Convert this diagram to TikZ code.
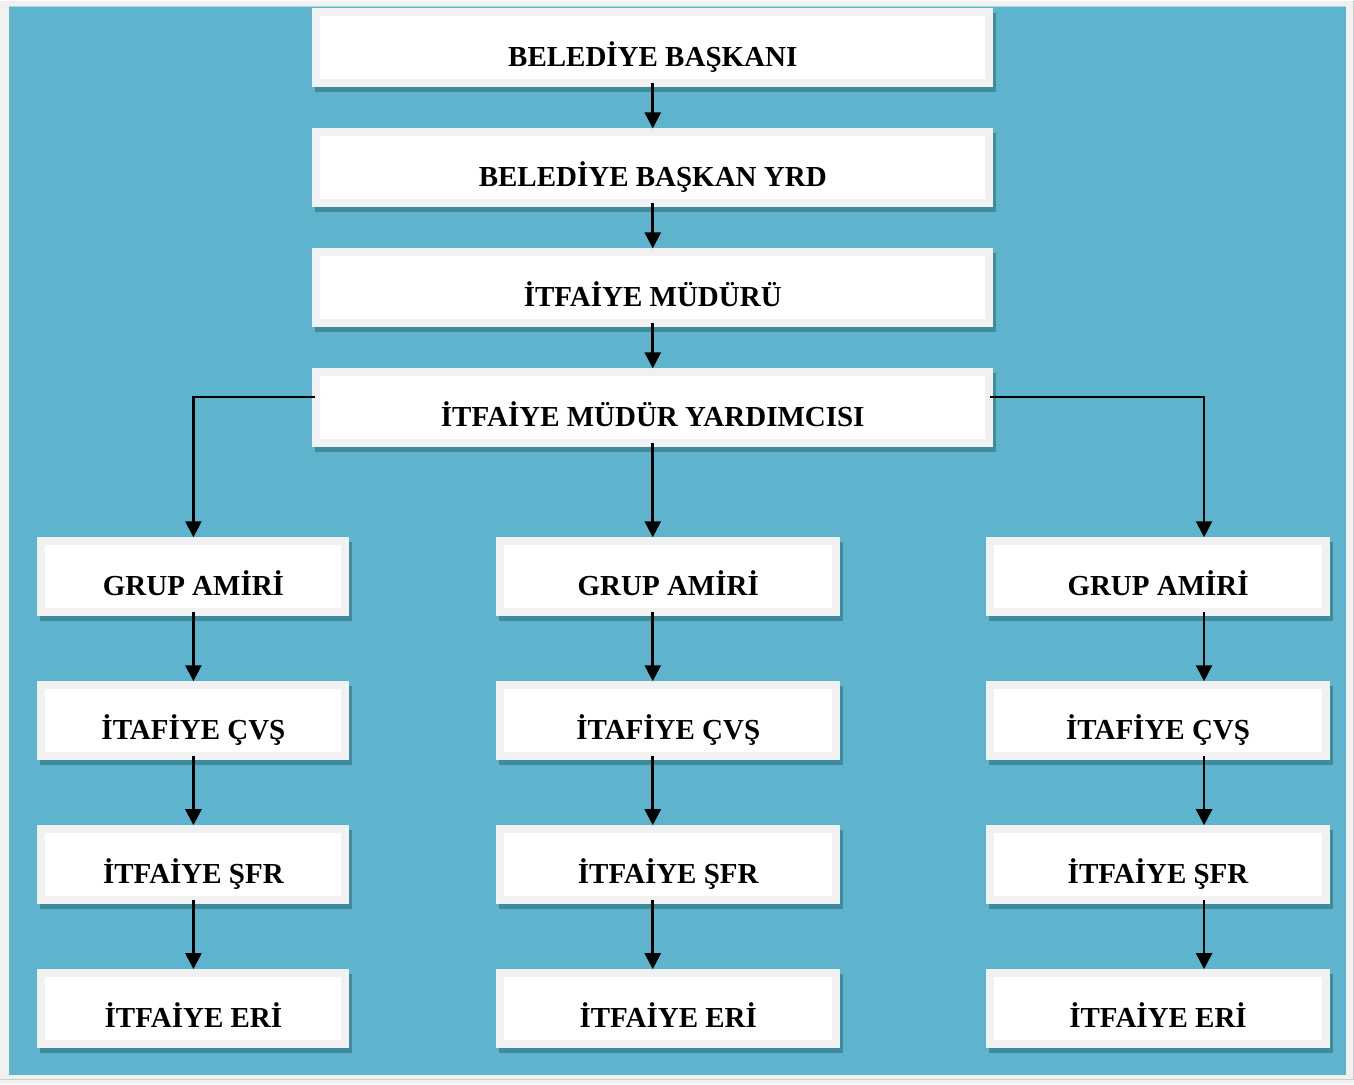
\documentclass[tikz,border=0pt]{standalone}
\usepackage{fontspec}
\setmainfont{Liberation Serif}
\usetikzlibrary{arrows.meta,calc,shadows}
\definecolor{bgteal}{HTML}{5EB4CD}
\definecolor{frameg}{HTML}{F1F1F1}
\definecolor{shadteal}{HTML}{3F8B9C}
\tikzset{
  box/.style={fill=frameg, minimum height=79pt, inner sep=0pt, outer sep=0pt,
    font=\fontsize{29}{34}\selectfont\bfseries, text height=38pt, text depth=0pt,
    drop shadow={shadow xshift=3pt, shadow yshift=-5pt, fill=shadteal, opacity=1},
    path picture={\fill[white] ([shift={(8pt,8pt)}]path picture bounding box.south west)
      rectangle ([shift={(-8pt,-8pt)}]path picture bounding box.north east);}},
  topbox/.style={box, minimum width=681pt},
  leftbox/.style={box, minimum width=312pt},
  widebox/.style={box, minimum width=344pt},
  conn/.style={line width=2.6pt, ->, shorten <=-4pt},
  elbow/.style={line width=2.2pt, ->}
}

\begin{document}
\begin{tikzpicture}[x=1pt,y=1pt,line cap=butt,>={Triangle[width=16pt,length=16pt]}]
\fill[frameg] (0,0) rectangle (1354,-1084);
\fill[bgteal] (9,-6) rectangle (1346,-1075);
\draw[bgteal!55!white, line width=1pt] (9,-6.5) -- (1346,-6.5);
\draw[gray!40, line width=1pt] (0,-1079) -- (1353,-1079) -- (1353,0);
% chain at the top
\node[topbox] (bb) at (652.5,-47.5) {BELEDİYE BAŞKANI};
\node[topbox] (bby) at (652.5,-167.5) {BELEDİYE BAŞKAN YRD};
\node[topbox] (im) at (652.5,-287.5) {İTFAİYE MÜDÜRÜ};
\node[topbox] (imy) at (652.5,-407.5) {İTFAİYE MÜDÜR YARDIMCISI};
% left column
\node[leftbox] (ga1) at (193,-576.5) {GRUP AMİRİ};
\node[leftbox] (cv1) at (193,-720.5) {İTAFİYE ÇVŞ};
\node[leftbox] (sf1) at (193,-864.5) {İTFAİYE ŞFR};
\node[leftbox] (er1) at (193,-1008.5) {İTFAİYE ERİ};
% middle column
\node[widebox] (ga2) at (668,-576.5) {GRUP AMİRİ};
\node[widebox] (cv2) at (668,-720.5) {İTAFİYE ÇVŞ};
\node[widebox] (sf2) at (668,-864.5) {İTFAİYE ŞFR};
\node[widebox] (er2) at (668,-1008.5) {İTFAİYE ERİ};
% right column
\node[widebox] (ga3) at (1158,-576.5) {GRUP AMİRİ};
\node[widebox] (cv3) at (1158,-720.5) {İTAFİYE ÇVŞ};
\node[widebox] (sf3) at (1158,-864.5) {İTFAİYE ŞFR};
\node[widebox] (er3) at (1158,-1008.5) {İTFAİYE ERİ};
\coordinate (lk) at ($(imy.west)+(3,10.5)$);
\coordinate (rs) at ($(imy.east)+(-3,10.5)$);
\coordinate (rk) at (1204,-397);
% arrows
\draw[conn] (bb.south) -- (bby.north);
\draw[conn] (bby.south) -- (im.north);
\draw[conn] (im.south) -- (imy.north);
\draw[elbow] (lk) -| (ga1.north);
\draw[conn] (imy.south) -- (ga2.north -| imy.south);
\draw[elbow] (rs) -- (rk) -- (rk |- ga3.north);
\draw[conn] (ga1) -- (cv1);
\draw[conn] (cv1) -- (sf1);
\draw[conn] (sf1) -- (er1);
\draw[conn] (ga2.south -| imy.south) -- (cv2.north -| imy.south);
\draw[conn] (cv2.south -| imy.south) -- (sf2.north -| imy.south);
\draw[conn] (sf2.south -| imy.south) -- (er2.north -| imy.south);
\draw[conn] (ga3.south -| rk) -- (cv3.north -| rk);
\draw[conn] (cv3.south -| rk) -- (sf3.north -| rk);
\draw[conn] (sf3.south -| rk) -- (er3.north -| rk);
\end{tikzpicture}
\end{document}
